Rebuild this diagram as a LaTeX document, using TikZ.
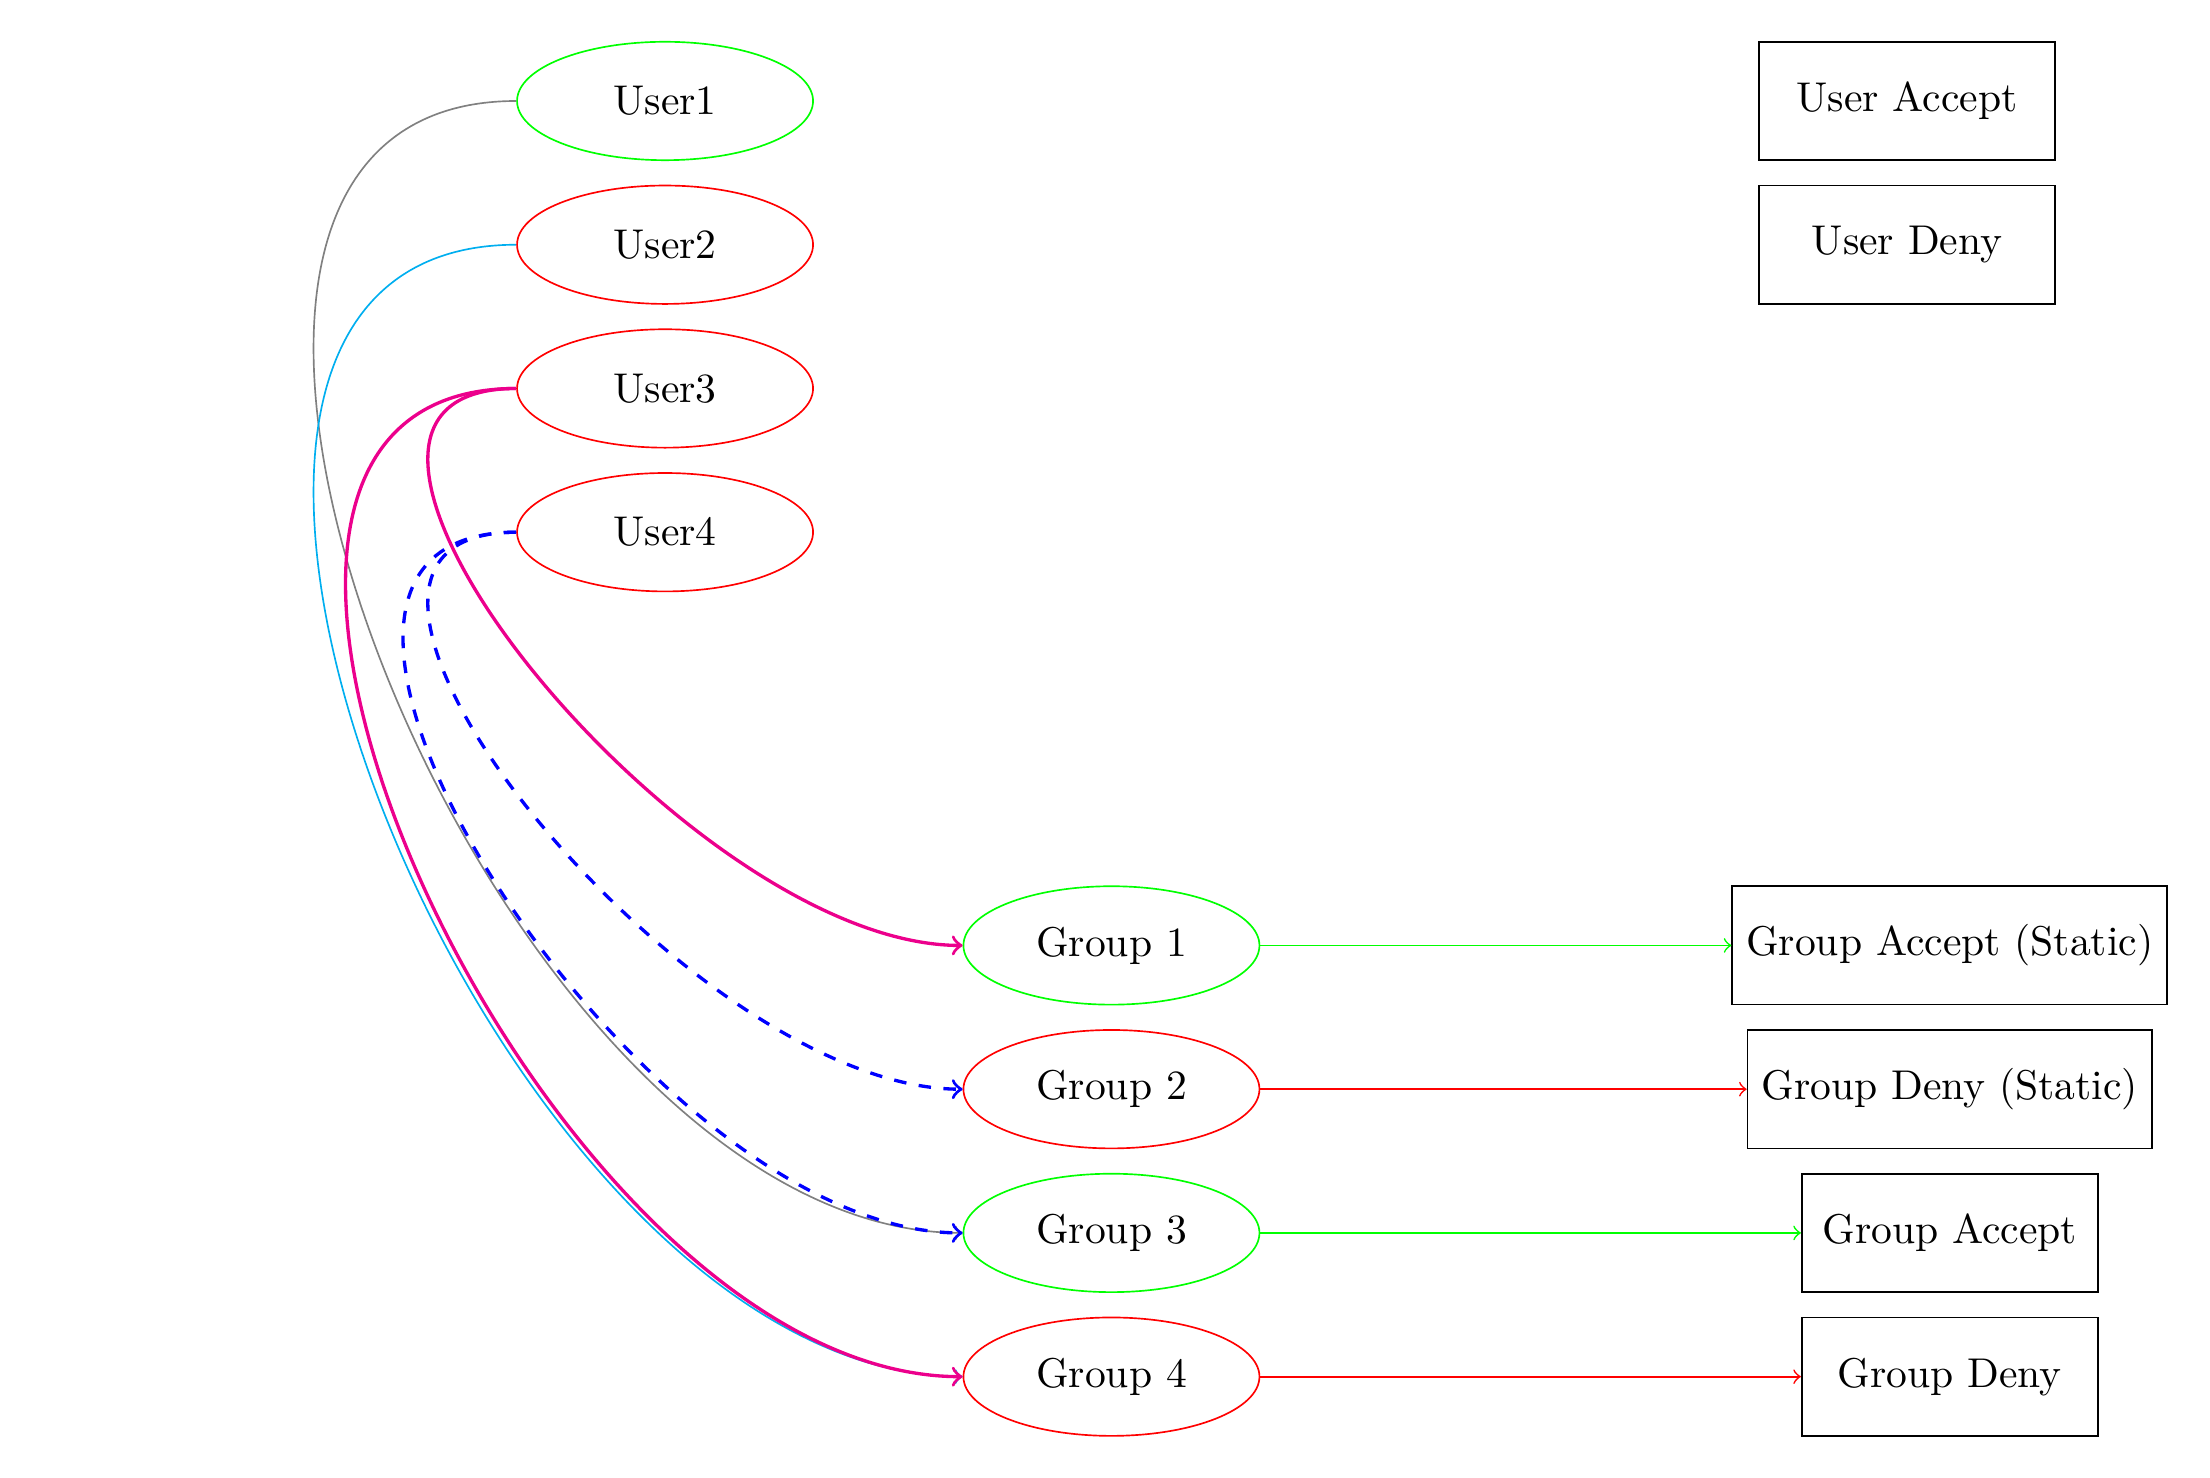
\documentclass[tikz,border=0pt]{standalone}
\usetikzlibrary{shapes.geometric}
\definecolor{linkgray}{gray}{0.5}
\definecolor{linkcyan}{HTML}{00AEEF}
\definecolor{linkmagenta}{HTML}{EC008C}
\begin{document}
\begin{tikzpicture}[
  roundnode/.style={ellipse, draw, minimum width=2.5cm, minimum height=1cm},
  boxnode/.style={rectangle, draw, minimum width=2.5cm, minimum height=1cm},
  acceptnode/.style={draw=green},
  denynode/.style={draw=red},
  link/.style={->, out=180, in=180},
  strong/.style={link, thick, linkmagenta},
  weak/.style={link, thick, dashed, blue},
]
\useasboundingbox (-5.617,0.853) rectangle (13.048,-11.622);

% users
\node[roundnode, acceptnode] (u1) at (0,0)      {User1};
\node[roundnode, denynode]   (u2) at (0,-1.214) {User2};
\node[roundnode, denynode]   (u3) at (0,-2.428) {User3};
\node[roundnode, denynode]   (u4) at (0,-3.642) {User4};

% groups
\node[roundnode, acceptnode] (g1) at (3.77,-7.132)  {Group 1};
\node[roundnode, denynode]   (g2) at (3.77,-8.346) {Group 2};
\node[roundnode, acceptnode] (g3) at (3.77,-9.560) {Group 3};
\node[roundnode, denynode]   (g4) at (3.77,-10.774) {Group 4};

% legend boxes
\node[boxnode] (ua) at (10.49,0)      {User Accept};
\node[boxnode] (ud) at (10.49,-1.214) {User Deny};
\node[boxnode] (gas) at (10.85,-7.132)  {Group Accept (Static)};
\node[boxnode] (gds) at (10.85,-8.346) {Group Deny (Static)};
\node[boxnode] (ga)  at (10.85,-9.560) {Group Accept};
\node[boxnode] (gd)  at (10.85,-10.774) {Group Deny};

% group outcomes
\draw[->, green] (g1) -- (gas);
\draw[->, red]   (g2) -- (gds);
\draw[->, green] (g3) -- (ga);
\draw[->, red]   (g4) -- (gd);

% memberships
\draw[link, linkgray] (u1.west) to (g3.west);
\draw[link, linkcyan] (u2.west) to (g4.west);
\draw[strong] (u3.west) to (g4.west);
\draw[strong] (u3.west) to (g1.west);
\draw[weak] (u4.west) to (g2.west);
\draw[weak] (u4.west) to (g3.west);
\end{tikzpicture}
\end{document}
